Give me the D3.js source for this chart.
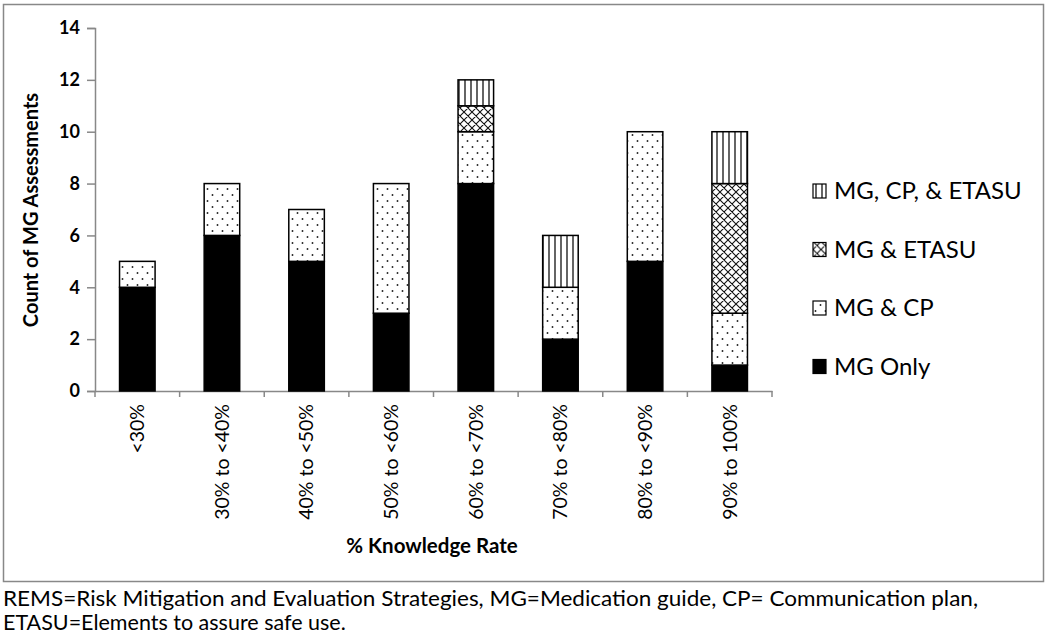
<!DOCTYPE html>
<html><head><meta charset="utf-8">
<script src="https://cdn.jsdelivr.net/npm/d3@7"></script>
<style>body{margin:0;background:#fff}svg{display:block}</style>
</head><body>
<svg id="c" width="1050" height="644"></svg>
<script>
const categories = ["<30%","30% to <40%","40% to <50%","50% to <60%","60% to <70%","70% to <80%","80% to <90%","90% to 100%"];
const mgOnly      = [4,6,5,3,8,2,5,1];
const mgCp        = [1,2,2,5,2,2,5,2];
const mgEtasu     = [0,0,0,0,1,0,0,5];
const mgCpEtasu   = [0,0,0,0,1,2,0,2];
const seriesNames = ["MG Only","MG & CP","MG & ETASU","MG, CP, & ETASU"];
const yTicks = [0,2,4,6,8,10,12,14];
const yTitle = "Count of MG Assessments";
const xTitle = "% Knowledge Rate";
const footnote = ["REMS=Risk Mitigation and Evaluation Strategies, MG=Medication guide, CP= Communication plan,",
                  "ETASU=Elements to assure safe use."];

const svg = d3.select("#c");
const FONT = "Lato, 'Open Sans', sans-serif";
const defs = svg.append("defs");
// patterns
const pDots = defs.append("pattern").attr("id","p1").attr("patternUnits","userSpaceOnUse").attr("width",10).attr("height",12);
pDots.append("rect").attr("width",10).attr("height",12).attr("fill","#fff");
pDots.append("circle").attr("cx",2.5).attr("cy",3).attr("r",0.95).attr("fill","#222");
pDots.append("circle").attr("cx",7.5).attr("cy",9).attr("r",0.95).attr("fill","#222");
const pX = defs.append("pattern").attr("id","p2").attr("patternUnits","userSpaceOnUse").attr("width",8).attr("height",8);
pX.append("rect").attr("width",8).attr("height",8).attr("fill","#fff");
pX.append("path").attr("d","M0,0L8,8M8,0L0,8M-1,7L1,9M7,-1L9,1M-1,1L1,-1M7,9L9,7").attr("stroke","#111").attr("stroke-width",1.1);
const pV = defs.append("pattern").attr("id","p3").attr("patternUnits","userSpaceOnUse").attr("width",6).attr("height",6);
pV.append("rect").attr("width",6).attr("height",6).attr("fill","#fff");
pV.append("path").attr("d","M3,0L3,6").attr("stroke","#111").attr("stroke-width",1.3);
const fills = ["#000","url(#p1)","url(#p2)","url(#p3)"];

// outer border
svg.append("rect").attr("x",3.5).attr("y",4.5).attr("width",1040).attr("height",577)
  .attr("fill","none").attr("stroke","#888").attr("stroke-width",1.5);

const x = d3.scaleBand().domain(categories).range([95,772]).paddingInner(0.58).paddingOuter(0.29);
const y = d3.scaleLinear().domain([0,14]).range([391,28]);

const table = categories.map((c,i)=>({cat:c, "MG Only":mgOnly[i], "MG & CP":mgCp[i], "MG & ETASU":mgEtasu[i], "MG, CP, & ETASU":mgCpEtasu[i]}));
const stack = d3.stack().keys(seriesNames)(table);

// y axis
const yAxis = svg.append("g").attr("transform","translate(95,0)")
  .call(d3.axisLeft(y).tickValues(yTicks).tickSize(8).tickPadding(7));
yAxis.select(".domain").attr("stroke","#888").attr("stroke-width",1.5);
yAxis.selectAll(".tick line").attr("stroke","#888").attr("stroke-width",1.5);
yAxis.selectAll("text").attr("font-family",FONT).attr("font-weight","bold").attr("font-size",18).attr("fill","#000");

// x axis
const xAxis = svg.append("g").attr("transform","translate(0,391)")
  .call(d3.axisBottom(x).tickSize(0).tickPadding(0));
xAxis.select(".domain").attr("stroke","#888").attr("stroke-width",1.5);
// boundary ticks
const bounds = d3.range(categories.length+1).map(i=> i===categories.length ? x(categories[i-1]) + x.bandwidth() + x.step()*0.29 : x(categories[i]) - x.step()*0.29);
svg.append("g").selectAll("line").data(bounds).join("line")
  .attr("x1",d=>d).attr("x2",d=>d).attr("y1",391).attr("y2",397).attr("stroke","#888").attr("stroke-width",1.5);
xAxis.selectAll(".tick text")
  .attr("font-family",FONT).attr("font-size",19.5).attr("fill","#000")
  .attr("text-anchor","end").attr("dy","0.35em")
  .attr("transform","translate(0,13) rotate(-90)").attr("x",0).attr("y",0);

// bars
svg.append("g").selectAll("g").data(stack).join("g")
  .attr("fill",(d,i)=>fills[i])
  .selectAll("rect").data(d=>d.filter(s=>s[1]-s[0]>0)).join("rect")
  .attr("x",d=>x(d.data.cat)).attr("width",x.bandwidth())
  .attr("y",d=>y(d[1])).attr("height",d=>y(d[0])-y(d[1]))
  .attr("stroke","#000").attr("stroke-width",1.5);

// titles
svg.append("text").attr("transform","translate(38,210) rotate(-90)").attr("text-anchor","middle")
  .attr("font-family",FONT).attr("font-weight","bold").attr("font-size",20).text(yTitle);
svg.append("text").attr("x",432).attr("y",553).attr("text-anchor","middle")
  .attr("font-family",FONT).attr("font-weight","bold").attr("font-size",20.5).text(xTitle);

// legend
const legOrder = seriesNames.slice().reverse();
const lg = svg.append("g").selectAll("g").data(legOrder).join("g")
  .attr("transform",(d,i)=>`translate(813,${191+i*58.5})`);
lg.append("rect").attr("x",0).attr("y",-7).attr("width",13).attr("height",14)
  .attr("fill",d=>fills[seriesNames.indexOf(d)]).attr("stroke","#000").attr("stroke-width",1.2);
lg.append("text").attr("x",21).attr("y",0).attr("dy","0.35em")
  .attr("font-family",FONT).attr("font-size",24).text(d=>d);

// footnote
svg.append("g").selectAll("text").data(footnote).join("text")
  .attr("x",3).attr("y",(d,i)=>606+i*24)
  .attr("font-family",FONT).attr("font-size",21.5)
  .each(function(d,i){ if(i===0) d3.select(this).attr("textLength",975).attr("lengthAdjust","spacingAndGlyphs"); })
  .text(d=>d);
</script>
</body></html>
